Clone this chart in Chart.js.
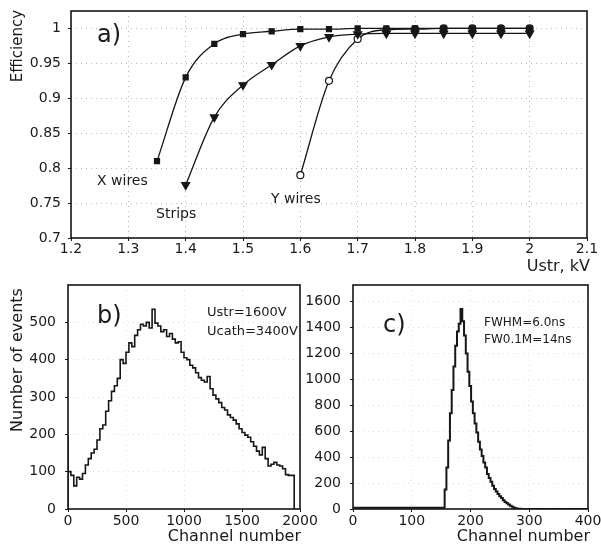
<!DOCTYPE html>
<html>
<head>
<meta charset="utf-8">
<script src="https://cdn.jsdelivr.net/npm/chart.js@4.4.0/dist/chart.umd.min.js"></script>
<style>
  html, body { margin: 0; padding: 0; background: #fff; }
  body { width: 601px; height: 547px; position: relative; overflow: hidden; }
  canvas { position: absolute; }
  #effChart  { left: 0;     top: 0; }
  #ampChart  { left: 0;     top: 275px; }
  #timeChart { left: 290px; top: 275px; }
</style>
</head>
<body>
<canvas id="effChart" width="601" height="280"></canvas>
<canvas id="ampChart" width="330" height="272"></canvas>
<canvas id="timeChart" width="311" height="272"></canvas>
<script>
// a) efficiency vs strip voltage
const voltsX      = [1.35, 1.4, 1.45, 1.5, 1.55, 1.6, 1.65, 1.7, 1.75, 1.8, 1.85, 1.9, 1.95, 2.0];
const effXwires   = [0.810, 0.930, 0.978, 0.992, 0.996, 0.999, 0.999, 1.0, 1.0, 1.0, 1.0, 1.0, 1.0, 1.0];
const voltsStrips = [1.4, 1.45, 1.5, 1.55, 1.6, 1.65, 1.7, 1.75, 1.8, 1.85, 1.9, 1.95, 2.0];
const effStrips   = [0.776, 0.873, 0.919, 0.948, 0.975, 0.988, 0.992, 0.993, 0.993, 0.993, 0.993, 0.993, 0.993];
const voltsY      = [1.6, 1.65, 1.7, 1.75, 1.8, 1.85, 1.9, 1.95, 2.0];
const effYwires   = [0.790, 0.925, 0.985, 0.998, 0.999, 1.0, 1.0, 1.0, 1.0];
const effTicks    = [0.7, 0.75, 0.8, 0.85, 0.9, 0.95, 1];
const voltTicks   = [1.2, 1.3, 1.4, 1.5, 1.6, 1.7, 1.8, 1.9, 2.0, 2.1];

// b) amplitude spectrum, 25-channel bins starting at 0
const ampBinStart = 0, ampBinWidth = 25;
const ampCounts = [
  195, 100, 90, 62, 85, 80, 95, 118, 135, 150,
  160, 185, 215, 225, 262, 290, 315, 330, 350, 400,
  390, 420, 445, 435, 465, 480, 495, 490, 500, 485,
  535, 498, 490, 475, 480, 462, 470, 455, 445, 448,
  420, 405, 400, 385, 378, 365, 352, 345, 340, 355,
  322, 305, 295, 285, 272, 265, 252, 245, 238, 228,
  215, 205, 198, 192, 180, 168, 155, 145, 165, 135,
  115, 120, 125, 118, 115, 108, 92, 90
];
const ampTicks  = [0, 100, 200, 300, 400, 500];
const chanTicksB = [0, 500, 1000, 1500, 2000];

// c) time spectrum, 3-channel bins starting at 156
const timeBinStart = 156, timeBinWidth = 3;
const timeCounts = [
  10, 150, 320, 530, 740, 920, 1100, 1260, 1370, 1430,
  1545, 1450, 1340, 1200, 1060, 950, 830, 740, 660, 590,
  520, 460, 410, 360, 320, 270, 240, 210, 180, 155,
  135, 115, 98, 85, 68, 55, 44, 35, 25, 17,
  10, 5, 2
];
const timeTicks  = [0, 200, 400, 600, 800, 1000, 1200, 1400, 1600];
const chanTicksC = [0, 100, 200, 300, 400];

Chart.defaults.font.family = "'DejaVu Sans', sans-serif";
Chart.defaults.font.size = 14;
Chart.defaults.color = "#1a1a1a";

const ink = "#161616";

/* box around the plot + free text labels */
const notesPlugin = {
  id: "notes",
  afterDraw(chart, args, opts) {
    const ctx = chart.ctx;
    const a = chart.chartArea;
    ctx.save();
    ctx.strokeStyle = ink;
    ctx.lineWidth = 1.6;
    ctx.strokeRect(a.left, a.top, a.right - a.left, a.bottom - a.top);
    ctx.fillStyle = "#1a1a1a";
    ctx.textBaseline = "middle";
    (opts.items || []).forEach(n => {
      ctx.save();
      ctx.font = `${n.size || 14}px 'DejaVu Sans', sans-serif`;
      ctx.textAlign = n.align || "left";
      ctx.translate(n.x, n.y);
      if (n.rotate) ctx.rotate(n.rotate * Math.PI / 180);
      ctx.fillText(n.text, 0, 0);
      ctx.restore();
    });
    ctx.restore();
  }
};

const fixTicks = list => scale => { scale.ticks = list.map(v => ({ value: v })); };
const fixWidth = w => scale => { scale.width = w; scale.paddingTop = 0; scale.paddingBottom = 0; };
const fixHeight = h => scale => { scale.height = h; scale.paddingLeft = 0; scale.paddingRight = 0; };
const fmt = v => String(+Number(v).toFixed(2));

const pts = (xs, ys) => xs.map((x, i) => ({ x, y: ys[i] }));

function histPoints(start, width, counts, xEnd) {
  const out = [{ x: 0, y: 0 }];
  counts.forEach((c, i) => out.push({ x: start + i * width, y: c }));
  const last = start + counts.length * width;
  out.push({ x: last, y: counts[counts.length - 1] });
  out.push({ x: last, y: 0 });
  if (xEnd > last) out.push({ x: xEnd, y: 0 });
  return out;
}

function axis(min, max, ticks, extra) {
  return Object.assign({
    type: "linear", min, max,
    afterBuildTicks: fixTicks(ticks),
    ticks: { callback: fmt, maxRotation: 0, autoSkip: false },
    border: { display: false, dash: [1, 4] },
    grid: { color: "rgba(0,0,0,0.28)", tickColor: ink, tickLength: 3, tickBorderDash: [] }
  }, extra);
}

/* ── a) efficiency ── */
new Chart(document.getElementById("effChart"), {
  type: "line",
  data: {
    datasets: [
      {
        label: "X wires", data: pts(voltsX, effXwires),
        borderColor: ink, borderWidth: 1.3, cubicInterpolationMode: "monotone",
        pointStyle: "rect", pointRadius: 3.5, pointBackgroundColor: ink, pointBorderColor: ink
      },
      {
        label: "Strips", data: pts(voltsStrips, effStrips),
        borderColor: ink, borderWidth: 1.3, cubicInterpolationMode: "monotone",
        pointStyle: "triangle", pointRotation: 180, pointRadius: 4.5,
        pointBackgroundColor: ink, pointBorderColor: ink
      },
      {
        label: "Y wires", data: pts(voltsY, effYwires),
        borderColor: ink, borderWidth: 1.3, cubicInterpolationMode: "monotone",
        pointStyle: "circle", pointRadius: 3.5, pointBorderWidth: 1.2,
        pointBackgroundColor: "#fff", pointBorderColor: ink
      }
    ]
  },
  options: {
    responsive: false, animation: false,
    layout: { padding: { left: 0, top: 11, right: 14, bottom: 0 } },
    scales: {
      x: axis(1.2, 2.1, voltTicks, { afterFit: fixHeight(42),
        ticks: { callback: fmt, maxRotation: 0, autoSkip: false, padding: 0 } }),
      y: axis(0.7, 1.025, effTicks, { afterFit: fixWidth(71),
        ticks: { callback: fmt, autoSkip: false, padding: 7 } })
    },
    plugins: {
      legend: { display: false },
      tooltip: { enabled: false },
      notes: { items: [
        { text: "a)", x: 97, y: 36, size: 24 },
        { text: "X wires", x: 97, y: 181 },
        { text: "Strips", x: 156, y: 214 },
        { text: "Y wires", x: 271, y: 199 },
        { text: "Efficiency", x: 18, y: 46, rotate: -90, align: "center", size: 15 },
        { text: "Ustr, kV", x: 590, y: 267, align: "right", size: 16 }
      ] }
    }
  },
  plugins: [notesPlugin]
});

/* ── b) amplitude ── */
new Chart(document.getElementById("ampChart"), {
  type: "line",
  data: {
    datasets: [{
      data: histPoints(ampBinStart, ampBinWidth, ampCounts, 0),
      stepped: "after", borderColor: ink, borderWidth: 1.6, pointRadius: 0
    }]
  },
  options: {
    responsive: false, animation: false,
    layout: { padding: { left: 0, top: 10, right: 30, bottom: 0 } },
    scales: {
      x: axis(0, 2000, chanTicksB, { afterFit: fixHeight(38),
        grid: { color: "rgba(0,0,0,0.12)", tickColor: ink, tickLength: 3 },
        ticks: { callback: fmt, maxRotation: 0, autoSkip: false, padding: 1 } }),
      y: axis(0, 600, ampTicks, { afterFit: fixWidth(68),
        grid: { color: "rgba(0,0,0,0.12)", tickColor: ink, tickLength: 3 },
        ticks: { callback: fmt, autoSkip: false, padding: 9 } })
    },
    plugins: {
      legend: { display: false },
      tooltip: { enabled: false },
      notes: { items: [
        { text: "b)", x: 97, y: 42, size: 24 },
        { text: "Ustr=1600V", x: 207, y: 38, size: 13 },
        { text: "Ucath=3400V", x: 207, y: 57, size: 13 },
        { text: "Number of events", x: 18, y: 85, rotate: -90, align: "center", size: 16 },
        { text: "Channel number", x: 301, y: 262, align: "right", size: 16 }
      ] }
    }
  },
  plugins: [notesPlugin]
});

/* ── c) time ── */
new Chart(document.getElementById("timeChart"), {
  type: "line",
  data: {
    datasets: [{
      data: histPoints(timeBinStart, timeBinWidth, timeCounts, 400),
      stepped: "after", borderColor: ink, borderWidth: 2, pointRadius: 0
    }]
  },
  options: {
    responsive: false, animation: false,
    layout: { padding: { left: 0, top: 10, right: 13, bottom: 0 } },
    scales: {
      x: axis(0, 400, chanTicksC, { afterFit: fixHeight(38),
        grid: { color: "rgba(0,0,0,0.12)", tickColor: ink, tickLength: 3 },
        ticks: { callback: fmt, maxRotation: 0, autoSkip: false, padding: 1 } }),
      y: axis(0, 1730, timeTicks, { afterFit: fixWidth(63),
        grid: { color: "rgba(0,0,0,0.12)", tickColor: ink, tickLength: 3 },
        ticks: { callback: fmt, autoSkip: false, padding: 9 } })
    },
    plugins: {
      legend: { display: false },
      tooltip: { enabled: false },
      notes: { items: [
        { text: "c)", x: 93, y: 51, size: 24 },
        { text: "FWHM=6.0ns", x: 194, y: 48, size: 12 },
        { text: "FW0.1M=14ns", x: 194, y: 65, size: 12 },
        { text: "Channel number", x: 300, y: 262, align: "right", size: 16 }
      ] }
    }
  },
  plugins: [notesPlugin]
});
</script>
</body>
</html>
